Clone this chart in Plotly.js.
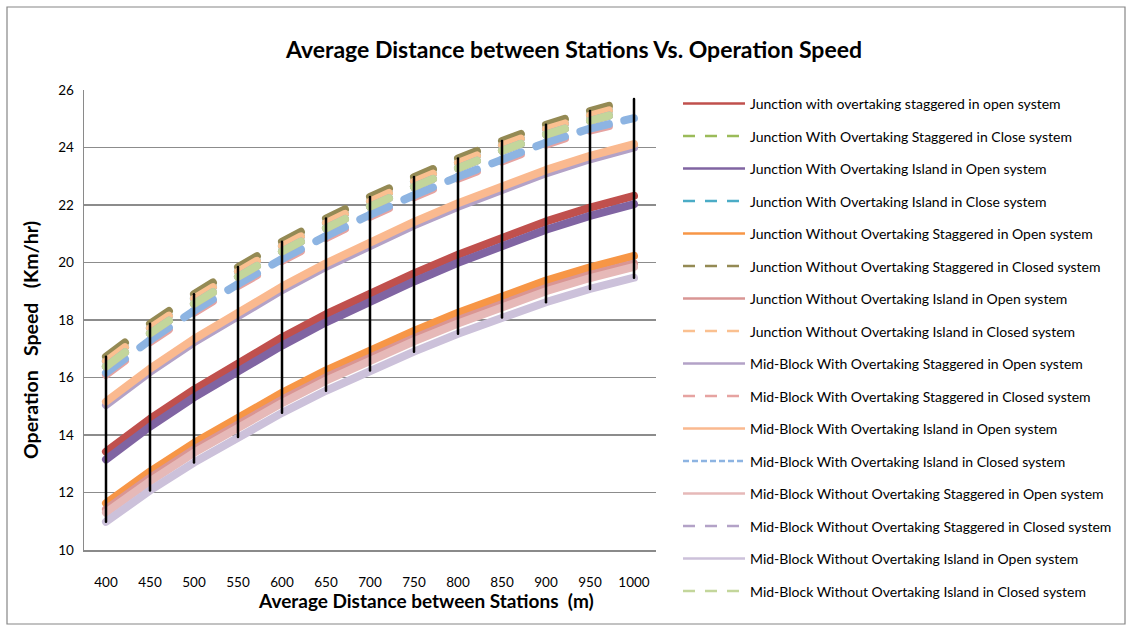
<!DOCTYPE html>
<html>
<head>
<meta charset="utf-8">
<script src="https://cdn.plot.ly/plotly-3.0.1.min.js"></script>
<style>
  html, body { margin: 0; padding: 0; background: #fff; }
  #chart { width: 1132px; height: 631px; }
  .scatterlayer .js-line { stroke-linecap: round !important; stroke-linejoin: round !important; }
</style>
</head>
<body>
<div id="chart"></div>
<script>
// ---- data ----
const categories = [400, 450, 500, 550, 600, 650, 700, 750, 800, 850, 900, 950, 1000];

const junctionWithStaggeredOpen      = [13.42, 14.56, 15.58, 16.52, 17.39, 18.20, 18.94, 19.62, 20.27, 20.88, 21.43, 21.91, 22.32];
const junctionWithStaggeredClose     = [16.38, 17.53, 18.56, 19.50, 20.38, 21.19, 21.94, 22.63, 23.28, 23.89, 24.45, 24.93, 25.35];
const junctionWithIslandOpen         = [13.15, 14.29, 15.31, 16.24, 17.11, 17.92, 18.66, 19.34, 19.99, 20.59, 21.14, 21.62, 22.03];
const junctionWithIslandClose        = [16.56, 17.71, 18.74, 19.68, 20.56, 21.37, 22.12, 22.81, 23.46, 24.07, 24.63, 25.11, 25.53];
const junctionWithoutStaggeredOpen   = [11.63, 12.73, 13.72, 14.62, 15.47, 16.25, 16.96, 17.62, 18.25, 18.84, 19.37, 19.83, 20.23];
const junctionWithoutStaggeredClosed = [16.72, 17.87, 18.90, 19.84, 20.72, 21.53, 22.28, 22.97, 23.62, 24.23, 24.79, 25.27, 25.69];
const junctionWithoutIslandOpen      = [11.42, 12.51, 13.50, 14.39, 15.23, 16.01, 16.71, 17.37, 18.00, 18.58, 19.11, 19.57, 19.96];
const junctionWithoutIslandClosed    = [16.56, 17.71, 18.74, 19.68, 20.56, 21.37, 22.12, 22.81, 23.46, 24.07, 24.63, 25.11, 25.53];
const midWithStaggeredOpen           = [15.04, 16.19, 17.22, 18.16, 19.04, 19.85, 20.60, 21.29, 21.94, 22.55, 23.10, 23.59, 24.00];
const midWithStaggeredClosed         = [16.09, 17.23, 18.25, 19.18, 20.05, 20.85, 21.59, 22.27, 22.91, 23.51, 24.10, 24.59, 24.95];
const midWithIslandOpen              = [15.16, 16.31, 17.34, 18.28, 19.16, 19.97, 20.72, 21.41, 22.06, 22.67, 23.22, 23.71, 24.12];
const midWithIslandClosed            = [16.16, 17.30, 18.32, 19.25, 20.12, 20.92, 21.66, 22.34, 22.98, 23.58, 24.17, 24.66, 25.02];
const midWithoutStaggeredOpen        = [11.30, 12.39, 13.38, 14.28, 15.11, 15.89, 16.60, 17.26, 17.88, 18.46, 19.00, 19.46, 19.85];
const midWithoutStaggeredClosed      = [16.38, 17.53, 18.56, 19.50, 20.38, 21.19, 21.94, 22.63, 23.28, 23.89, 24.45, 24.93, 25.35];
const midWithoutIslandOpen           = [10.98, 12.07, 13.04, 13.93, 14.77, 15.54, 16.24, 16.90, 17.52, 18.09, 18.62, 19.08, 19.47];
const midWithoutIslandClosed         = [16.38, 17.53, 18.56, 19.50, 20.38, 21.19, 21.94, 22.63, 23.28, 23.89, 24.45, 24.93, 25.35];

const seriesNames = [
  'Junction with overtaking staggered in open system',
  'Junction With Overtaking Staggered in Close system',
  'Junction With Overtaking Island in Open system',
  'Junction With Overtaking Island in Close system',
  'Junction Without Overtaking Staggered in Open system',
  'Junction Without Overtaking Staggered in Closed system',
  'Junction Without Overtaking Island in Open system',
  'Junction Without Overtaking Island in Closed system',
  'Mid-Block With Overtaking Staggered in Open system',
  'Mid-Block With Overtaking Staggered in Closed system',
  'Mid-Block With Overtaking Island in Open system',
  'Mid-Block With Overtaking Island in Closed system',
  'Mid-Block Without Overtaking Staggered in Open system',
  'Mid-Block Without Overtaking Staggered in Closed system',
  'Mid-Block Without Overtaking Island in Open system',
  'Mid-Block Without Overtaking Island in Closed system'
];
const seriesValues = [
  junctionWithStaggeredOpen, junctionWithStaggeredClose, junctionWithIslandOpen, junctionWithIslandClose,
  junctionWithoutStaggeredOpen, junctionWithoutStaggeredClosed, junctionWithoutIslandOpen, junctionWithoutIslandClosed,
  midWithStaggeredOpen, midWithStaggeredClosed, midWithIslandOpen, midWithIslandClosed,
  midWithoutStaggeredOpen, midWithoutStaggeredClosed, midWithoutIslandOpen, midWithoutIslandClosed
];

// ---- styles ----
const seriesColors = ['#C0504D', '#9BBB59', '#8064A2', '#4BACC6', '#F79646', '#948A54', '#D99694', '#FAC090',
                      '#B3A2C7', '#E6A3A1', '#FAB98F', '#8DB4E2', '#E6B9B8', '#B3A2C7', '#CCC1DA', '#C3D69B'];
const seriesKinds  = ['solid', 'dash', 'solid', 'dash', 'solid', 'dash', 'solid', 'dash',
                      'solid', 'dash', 'solid', 'sysdash', 'solid', 'dash', 'solid', 'dash'];

const FONT = 'Lato, "Open Sans", sans-serif';
const L = 84, R = 476, T = 90, B = 81, W = 1132, H = 631;
const PW = W - L - R, PH = H - T - B;
const XR = [375, 1025], YR = [10, 26];
const PX_X = PW / (XR[1] - XR[0]), PX_Y = PH / (YR[1] - YR[0]);
const LW = 8;

function segDash(kind, S) {
  if (kind === 'dash') return (0.43 * S).toFixed(1) + 'px,' + (2 * S).toFixed(1) + 'px';
  return (0.43 * S).toFixed(1) + 'px,' + (0.35 * S).toFixed(1) + 'px,' + (0.22 * S).toFixed(1) + 'px,' + (2 * S).toFixed(1) + 'px';
}

const traces = [];
seriesNames.forEach((name, k) => {
  const vals = seriesValues[k], color = seriesColors[k], kind = seriesKinds[k];
  traces.push({
    x: [null], y: [null], type: 'scatter', mode: 'lines', name: name, legendgroup: name,
    line: { color: color, width: 2.5, dash: kind === 'solid' ? 'solid' : (kind === 'dash' ? '12px,10px' : '6px,3px') },
    hoverinfo: 'skip'
  });
  if (kind === 'solid') {
    traces.push({ x: categories, y: vals, type: 'scatter', mode: 'lines', name: name, legendgroup: name,
      showlegend: false, line: { color: color, width: LW } });
  } else {
    for (let i = 0; i < categories.length - 1; i++) {
      const S = Math.hypot((categories[i + 1] - categories[i]) * PX_X, (vals[i + 1] - vals[i]) * PX_Y);
      traces.push({ x: [categories[i], categories[i + 1]], y: [vals[i], vals[i + 1]], type: 'scatter', mode: 'lines',
        name: name, legendgroup: name, showlegend: false,
        line: { color: color, width: LW, dash: segDash(kind, S) } });
    }
  }
});

// high-low lines
const hlX = [], hlY = [];
categories.forEach((c, i) => {
  const col = seriesValues.map(v => v[i]);
  hlX.push(c, c, null);
  hlY.push(Math.max(...col), Math.min(...col), null);
});
traces.push({ x: hlX, y: hlY, type: 'scatter', mode: 'lines', showlegend: false, hoverinfo: 'skip',
  line: { color: '#000000', width: 2.5 } });

const px2x = p => (p - L) / PW;
const py2y = p => 1 - (p - T) / PH;

const layout = {
  width: W, height: H,
  margin: { l: L, r: R, t: T, b: B, pad: 0 },
  paper_bgcolor: '#ffffff', plot_bgcolor: '#ffffff',
  font: { family: FONT, color: '#000000', size: 13 },
  title: { text: 'Average Distance between Stations Vs. Operation Speed', x: 574 / W, y: 1 - 50 / H,
    xanchor: 'center', yanchor: 'middle', xref: 'container', yref: 'container',
    font: { family: FONT, size: 23, color: '#000000', weight: 'bold' } },
  xaxis: { range: XR, tickvals: categories, ticktext: categories.map(String), showgrid: false, zeroline: false,
    showline: true, linecolor: '#8a8a8a', linewidth: 1.5, ticks: '', ticklabelstandoff: 19,
    tickfont: { family: FONT, size: 13.5, color: '#000' }, fixedrange: true },
  yaxis: { range: YR, tick0: 10, dtick: 2, showgrid: true, gridcolor: '#8c8c8c', gridwidth: 1.5, zeroline: false,
    showline: true, linecolor: '#8a8a8a', linewidth: 1.5, ticks: '', ticklabelstandoff: 6,
    tickfont: { family: FONT, size: 13.5, color: '#000' }, fixedrange: true },
  legend: { x: px2x(678), xanchor: 'left', y: py2y(88), yanchor: 'top', traceorder: 'grouped', tracegroupgap: 11.3,
    itemwidth: 62, maxheight: 620,
    font: { family: FONT, size: 14, color: '#000' }, bgcolor: 'rgba(0,0,0,0)' },
  annotations: [
    { text: 'Average Distance between Stations  (m)', xref: 'paper', yref: 'paper', x: px2x(426), y: py2y(600),
      xanchor: 'center', yanchor: 'middle', showarrow: false, font: { family: FONT, size: 19, weight: 'bold', color: '#000' } },
    { text: 'Operation\u00a0\u00a0 Speed\u00a0\u00a0 (Km/hr)', xref: 'paper', yref: 'paper', x: px2x(30), y: py2y(340), textangle: -90,
      xanchor: 'center', yanchor: 'middle', showarrow: false, font: { family: FONT, size: 19.5, weight: 'bold', color: '#000' } }
  ],
  shapes: [
    { type: 'rect', xref: 'paper', yref: 'paper', x0: px2x(7), x1: px2x(1125), y0: py2y(624), y1: py2y(7),
      line: { color: '#868686', width: 1.2 }, fillcolor: 'rgba(0,0,0,0)', layer: 'below' }
  ],
  showlegend: true
};

Plotly.newPlot('chart', traces, layout, { displayModeBar: false, staticPlot: true });
</script>
</body>
</html>
